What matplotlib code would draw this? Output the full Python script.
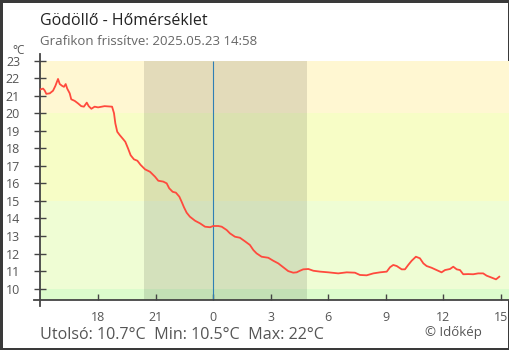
import matplotlib.pyplot as plt

plt.rcParams['font.family'] = ['Open Sans', 'DejaVu Sans']

# hours relative to local midnight (2025-05-23 00:00)
hours = [
    -9.00, -8.88, -8.80, -8.71, -8.53, -8.36, -8.24, -8.10, -8.01, -7.89,
    -7.79, -7.70, -7.62, -7.49, -7.41, -7.23, -7.06, -6.89, -6.75, -6.60,
    -6.50, -6.36, -6.19, -6.01, -5.67, -5.28, -5.18, -5.11, -5.01, -4.88,
    -4.71, -4.59, -4.45, -4.31, -4.14, -3.96, -3.79, -3.56, -3.30, -3.04,
    -2.87, -2.61, -2.43, -2.30, -2.12, -1.95, -1.77, -1.65, -1.53, -1.39,
    -1.22, -0.95, -0.69, -0.43, -0.17, 0.00, 0.26, 0.44, 0.70, 0.87,
    1.13, 1.39, 1.65, 1.91, 2.09, 2.26, 2.52, 2.87, 3.13, 3.39,
    3.65, 3.91, 4.17, 4.35, 4.52, 4.69, 4.96, 5.22, 5.57, 6.00,
    6.52, 6.96, 7.39, 7.65, 8.00, 8.35, 8.70, 9.05, 9.22, 9.39,
    9.57, 9.83, 10.00, 10.17, 10.35, 10.57, 10.78, 10.96, 11.13, 11.39,
    11.65, 11.91, 12.09, 12.35, 12.52, 12.70, 12.87, 13.04, 13.30, 13.56,
    13.82, 14.08, 14.26, 14.52, 14.75, 14.92,
]
temps = [
    21.36, 21.40, 21.30, 21.10, 21.13, 21.28, 21.55, 21.95, 21.66, 21.56,
    21.50, 21.66, 21.40, 21.13, 20.79, 20.70, 20.56, 20.40, 20.37, 20.60,
    20.40, 20.25, 20.37, 20.33, 20.40, 20.37, 20.00, 19.42, 18.94, 18.75,
    18.53, 18.37, 18.00, 17.60, 17.37, 17.29, 17.05, 16.80, 16.66, 16.38,
    16.15, 16.10, 16.00, 15.72, 15.52, 15.47, 15.24, 14.95, 14.64, 14.33,
    14.10, 13.87, 13.72, 13.53, 13.50, 13.57, 13.57, 13.53, 13.34, 13.15,
    12.96, 12.90, 12.70, 12.49, 12.20, 12.01, 11.82, 11.76, 11.59, 11.44,
    11.22, 11.00, 10.91, 10.93, 11.02, 11.10, 11.12, 11.02, 10.97, 10.93,
    10.87, 10.93, 10.91, 10.78, 10.76, 10.87, 10.93, 10.97, 11.22, 11.35,
    11.29, 11.10, 11.10, 11.35, 11.59, 11.82, 11.73, 11.44, 11.29, 11.19,
    11.06, 10.93, 11.06, 11.12, 11.25, 11.10, 11.06, 10.82, 10.83, 10.82,
    10.87, 10.87, 10.74, 10.63, 10.53, 10.68,
]

tick_pos = [-6, -3, 0, 3, 6, 9, 12, 15]
tick_labels = ['18', '21', '0', '3', '6', '9', '12', '15']
y_ticks = list(range(10, 24))

# temperature bands: (low, high, colour)
band_lo = [9.37, 10, 15, 20]
band_hi = [10, 15, 20, 23]
band_col = ['#dcfccc', '#effdd4', '#f7fdc6', '#fff7d2']

sunset, sunrise = -3.62, 4.87
x_start, x_end = -9.04, 15.48

fig = plt.figure(figsize=(5.1, 3.5), dpi=100)
fig.patch.set_edgecolor('#3a3a3a')
fig.patch.set_linewidth(2.5)

ax = fig.add_axes([34 / 510, 43.8 / 350, 476 / 510, 252.7 / 350])
ax.set_xlim(-9.353, x_end)
ax.set_ylim(9.0, 23.4)
ax.patch.set_visible(False)

for lo, hi, c in zip(band_lo, band_hi, band_col):
    ax.fill_between([x_start, x_end], lo, hi, color=c, lw=0, zorder=0)
# night
ax.fill_between([sunset, sunrise], 9.37, 23, color='k', alpha=0.11, lw=0, zorder=1)
ax.vlines(0, 9.37, 23, color='#2f7fb5', lw=0.8, zorder=2)

ax.plot(hours, temps, color='#ff4a3d', lw=1.3, zorder=3)

for s in ['top', 'right']:
    ax.spines[s].set_visible(False)
ax.spines['left'].set_position(('data', x_start))
ax.spines['bottom'].set_position(('data', 9.37))
for s in ['left', 'bottom']:
    ax.spines[s].set_color('#444444')
    ax.spines[s].set_linewidth(1.3)

ax.set_yticks(y_ticks)
ax.set_xticks(tick_pos)
ax.set_xticklabels(tick_labels)
ax.tick_params(axis='y', direction='inout', length=8.6, width=1, pad=10,
               colors='#444444', labelcolor='#555555', labelsize=9)
ax.tick_params(axis='x', direction='in', length=4.3, width=1, pad=8,
               colors='#444444', labelcolor='#555555', labelsize=9)

fig.text(40 / 510, 1 - 25 / 350, 'Gödöllő - Hőmérséklet', fontsize=11.5,
         color='#222222', va='baseline')
fig.text(40 / 510, 1 - 45 / 350, 'Grafikon frissítve: 2025.05.23 14:58',
         fontsize=9.5, color='#666666', va='baseline')
fig.text(12 / 510, 1 - 54 / 350, '°C', fontsize=8.5, color='#555555', va='baseline')
fig.text(40 / 510, 1 - 339 / 350, 'Utolsó: 10.7°C  Min: 10.5°C  Max: 22°C',
         fontsize=11.6, color='#555555', va='baseline')
fig.text(425 / 510, 1 - 336 / 350, '© Időkép', fontsize=9.5,
         color='#555555', va='baseline')

fig.savefig('out.png', dpi=100, edgecolor=fig.get_edgecolor())
